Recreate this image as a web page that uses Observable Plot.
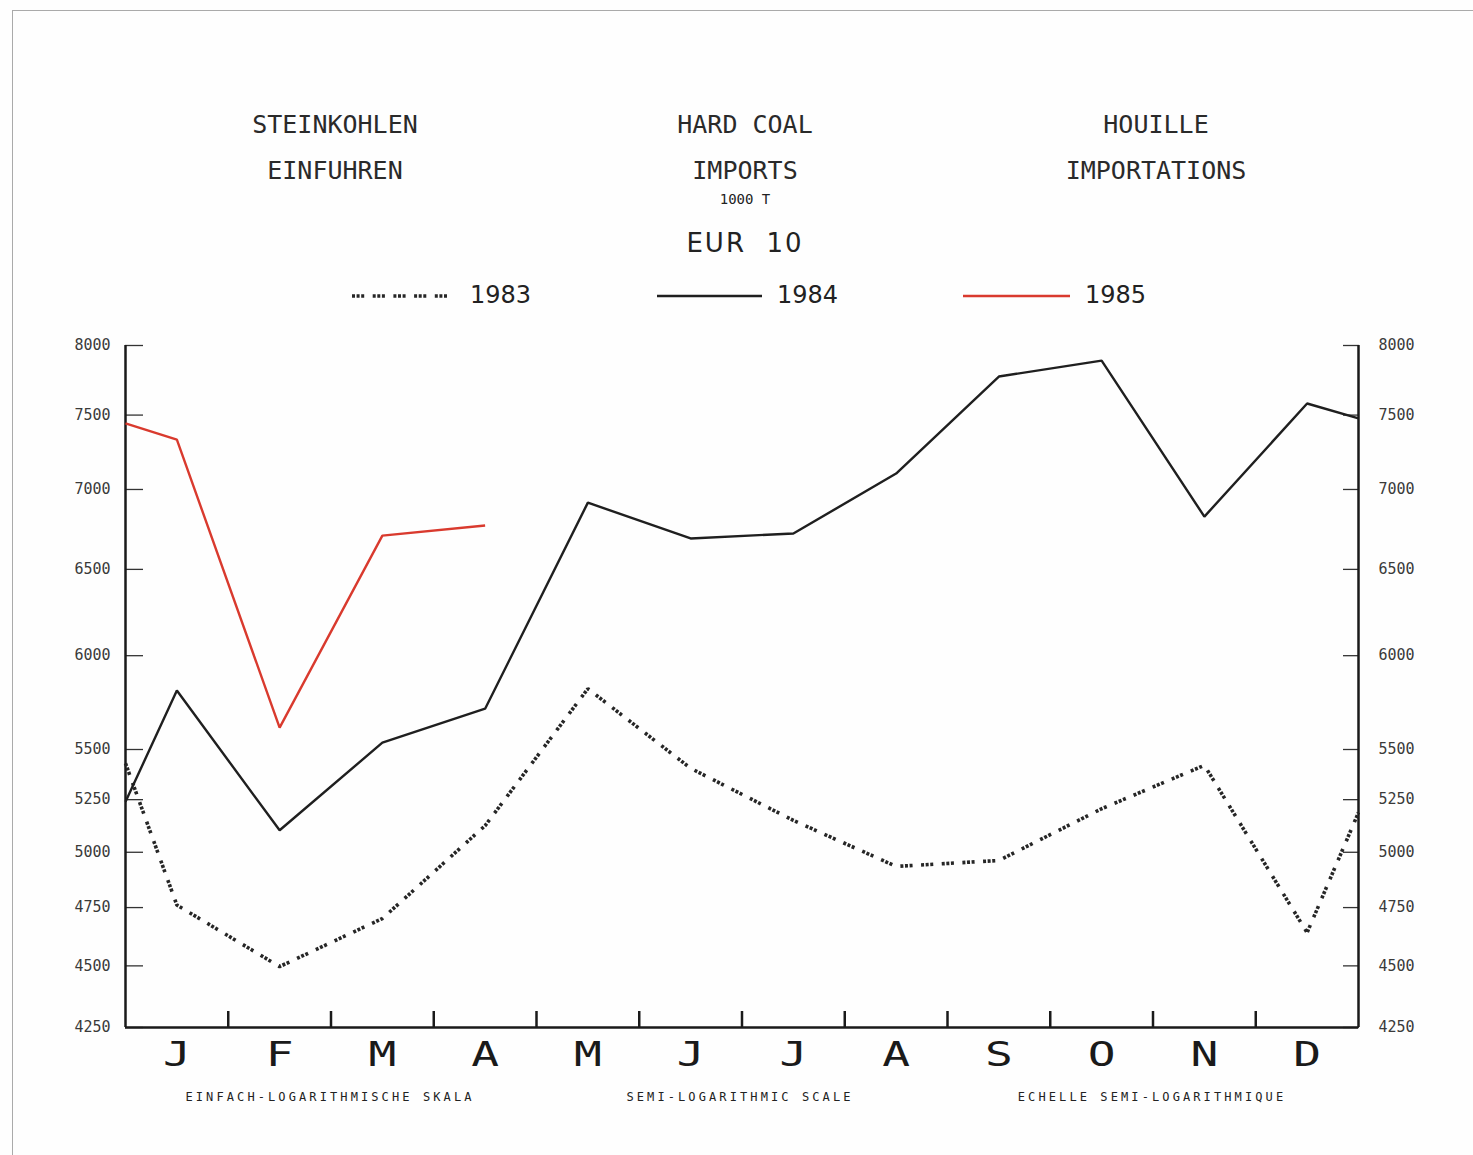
<!DOCTYPE html>
<html>
<head>
<meta charset="utf-8">
<script src="https://cdn.jsdelivr.net/npm/d3@7"></script>
<script src="https://cdn.jsdelivr.net/npm/@observablehq/plot@0.6"></script>
<style>
  html, body { margin: 0; padding: 0; background: #fff; }
  #page { position: relative; width: 1473px; height: 1155px; overflow: hidden; background: #fefefe; }
  #frame { position: absolute; left: 12px; top: 10px; right: -2px; bottom: -2px; border-left: 1.5px solid #aaa; border-top: 1.5px solid #aaa; }
  .t { position: absolute; transform: translate(-50%, -50%); white-space: pre; color: #222; font-family: "DejaVu Sans Mono", monospace; }
  .title { font-size: 25px; color: #2a2a2a; }
  .unit { font-size: 14px; }
  .eur { font-family: "DejaVu Sans", sans-serif; font-size: 26px; letter-spacing: 2px; }
  .leg { position: absolute; transform: translate(0, -50%); font-family: "DejaVu Sans", sans-serif; font-size: 24px; color: #222; }
  .sw { position: absolute; }
  .foot { font-size: 12px; letter-spacing: 3.1px; }
  #chart { position: absolute; left: 0; top: 320px; }
</style>
</head>
<body>
<div id="page">
  <div id="frame"></div>
  <div id="header"></div>
  <div id="chart"></div>
  <div id="footer"></div>
</div>
<script>
// ---- data ----
const months = ["J", "F", "M", "A", "M", "J", "J", "A", "S", "O", "N", "D"];
const years = ["1983", "1984", "1985"];
// monthly values, 1000 t
const v1983 = [4761, 4497, 4702, 5125, 5819, 5405, 5150, 4935, 4962, 5206, 5420, 4641];
const v1984 = [5809, 5103, 5535, 5712, 6915, 6689, 6720, 7104, 7773, 7889, 6826, 7581];
const v1985 = [7331, 5613, 6707, 6770];
// values where each curve meets the left / right axis
const start1983 = 5430, start1984 = 5240, start1985 = 7442;
const end1983 = 5188, end1984 = 7477;
const yTicks = [4250, 4500, 4750, 5000, 5250, 5500, 6000, 6500, 7000, 7500, 8000];
const monthBounds = [1, 2, 3, 4, 5, 6, 7, 8, 9, 10, 11];
const titleLines = [
  ["STEINKOHLEN", "EINFUHREN"],
  ["HARD COAL", "IMPORTS"],
  ["HOUILLE", "IMPORTATIONS"]
];
const unitText = "1000 T";
const regionText = "EUR  10";
const footTexts = ["EINFACH-LOGARITHMISCHE SKALA", "SEMI-LOGARITHMIC SCALE", "ECHELLE SEMI-LOGARITHMIQUE"];

// ---- build table ----
function series(year, vals, startVal, endVal) {
  const rows = [{year, x: 0, value: startVal}];
  vals.forEach((v, i) => rows.push({year, x: i + 0.5, value: v}));
  if (endVal != null) rows.push({year, x: 12, value: endVal});
  return rows;
}
const s83 = series("1983", v1983, start1983, end1983);
const s84 = series("1984", v1984, start1984, end1984);
const s85 = series("1985", v1985, start1985, null);

const styles = {
  "1983": {stroke: "#262626", strokeWidth: 3.6, strokeDasharray: "3,1.6,3,1.6,3,8.5"},
  "1984": {stroke: "#1f1f1f", strokeWidth: 2.4},
  "1985": {stroke: "#d93a2e", strokeWidth: 2.4}
};

// ---- header ----
const header = document.getElementById("header");
function addText(parent, cls, txt, cx, cy) {
  const d = document.createElement("div");
  d.className = "t " + cls;
  d.textContent = txt;
  d.style.left = cx + "px";
  d.style.top = cy + "px";
  parent.appendChild(d);
}
const colX = [335, 745, 1156];
titleLines.forEach((lines, i) => {
  addText(header, "title", lines[0], colX[i], 124);
  addText(header, "title", lines[1], colX[i], 170);
});
addText(header, "unit", unitText, 745, 199);
addText(header, "eur", regionText, 745, 243);

// legend
const legPos = [[352, 453, 470], [657, 762, 777], [963, 1070, 1085]];
years.forEach((y, i) => {
  const [x1, x2, tx] = legPos[i];
  const st = styles[y];
  const ns = "http://www.w3.org/2000/svg";
  const svg = document.createElementNS(ns, "svg");
  svg.setAttribute("class", "sw");
  svg.setAttribute("width", x2 - x1);
  svg.setAttribute("height", 10);
  svg.style.left = x1 + "px";
  svg.style.top = "291px";
  const ln = document.createElementNS(ns, "line");
  ln.setAttribute("x1", 0); ln.setAttribute("x2", x2 - x1);
  ln.setAttribute("y1", 5); ln.setAttribute("y2", 5);
  ln.setAttribute("stroke", st.stroke);
  ln.setAttribute("stroke-width", st.strokeWidth);
  if (st.strokeDasharray) ln.setAttribute("stroke-dasharray", st.strokeDasharray);
  svg.appendChild(ln);
  header.appendChild(svg);
  const t = document.createElement("div");
  t.className = "leg";
  t.textContent = y;
  t.style.left = tx + "px";
  t.style.top = "295px";
  header.appendChild(t);
});

// ---- chart ----
const lineMark = (data, y) => Plot.line(data, {x: "x", y: "value", ...styles[y], strokeLinejoin: "miter", strokeLinecap: "butt"});
const chart = Plot.plot({
  width: 1473,
  height: 760,
  marginTop: 25,
  marginBottom: 53,
  marginLeft: 125,
  marginRight: 115,
  style: {fontFamily: "DejaVu Sans Mono, monospace", background: "transparent", color: "#222"},
  x: {type: "linear", domain: [0, 12]},
  y: {type: "log", domain: [4250, 8000]},
  marks: [
    Plot.axisY(yTicks, {anchor: "left", tickSize: -18, tickFormat: () => "", label: null, strokeWidth: 1.3, stroke: "#333"}),
    Plot.axisY(yTicks, {anchor: "left", tickSize: 0, tickPadding: 15, tickFormat: d => String(d), label: null, fontSize: 15, fill: "#3a3a3a"}),
    Plot.axisY(yTicks, {anchor: "right", tickSize: -16, tickFormat: () => "", label: null, strokeWidth: 1.3, stroke: "#333"}),
    Plot.axisY(yTicks, {anchor: "right", tickSize: 0, tickPadding: 20, tickFormat: d => String(d), label: null, fontSize: 15, fill: "#3a3a3a"}),
    Plot.axisX(monthBounds, {anchor: "bottom", tickSize: -16, tickFormat: () => "", label: null, strokeWidth: 2.5, stroke: "#1a1a1a"}),
    Plot.axisX(months.map((m, i) => i + 0.5), {anchor: "bottom", tickSize: 0, tickPadding: 15, tickFormat: d => months[Math.floor(d)], label: null, fontSize: 33, fill: "#1a1a1a"}),
    Plot.ruleX([0, 12], {stroke: "#1a1a1a", strokeWidth: 2.5}),
    Plot.ruleY([4250], {stroke: "#1a1a1a", strokeWidth: 2.5}),
    lineMark(s83, "1983"),
    lineMark(s84, "1984"),
    lineMark(s85, "1985")
  ]
});
document.getElementById("chart").appendChild(chart);
// widen the month letters (plotter lettering is broad)
chart.querySelectorAll("text").forEach(t => {
  if (t.textContent.length === 1 && months.includes(t.textContent)) {
    const tr = t.getAttribute("transform") || "";
    t.setAttribute("transform", (tr + " scale(1.4,1)").trim());
  }
});

// ---- footer ----
const footer = document.getElementById("footer");
footTexts.forEach((txt, i) => addText(footer, "foot", txt, [330, 740, 1152][i], 1097));
</script>
</body>
</html>
